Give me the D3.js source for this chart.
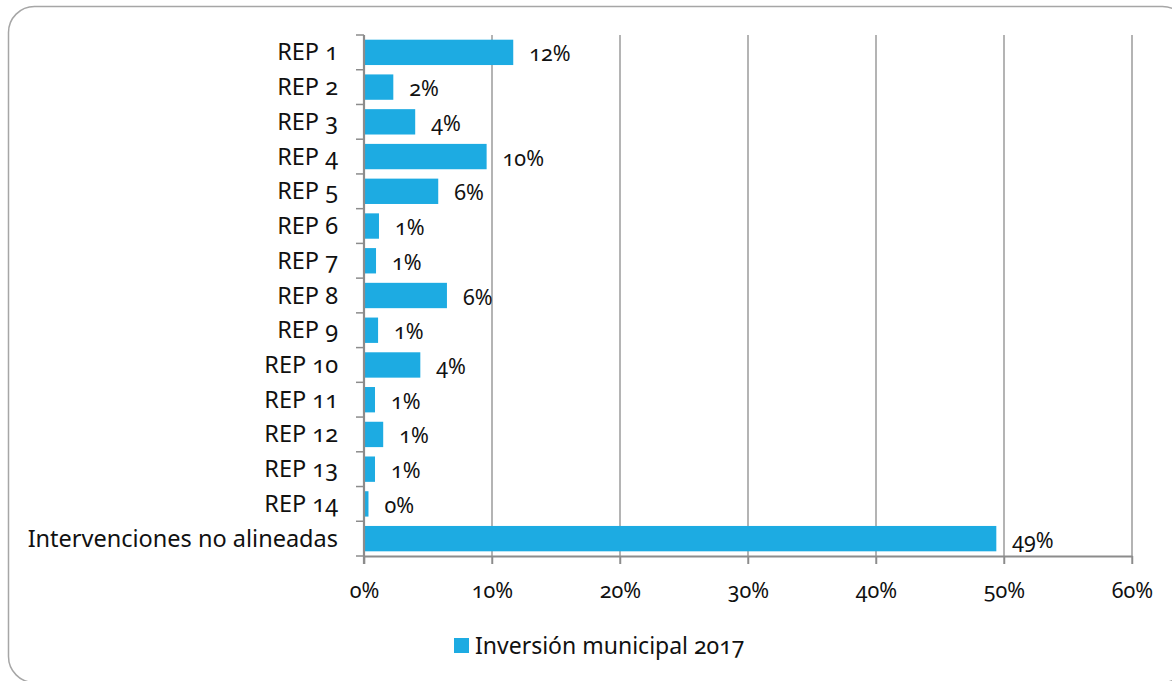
<!DOCTYPE html>
<html><head><meta charset="utf-8">
<script src="https://cdn.jsdelivr.net/npm/d3@7"></script>
<style>
html,body{margin:0;padding:0;background:#fff;}
svg text{font-family:"Noto Sans","Open Sans",sans-serif;font-variant-numeric:oldstyle-nums;font-feature-settings:"onum" 1;fill:#111;}
</style></head><body>
<svg id="c" width="1172" height="681"></svg>
<script>
const categories = ["REP 1","REP 2","REP 3","REP 4","REP 5","REP 6","REP 7","REP 8","REP 9","REP 10","REP 11","REP 12","REP 13","REP 14","Intervenciones no alineadas"];
const values = [0.1166,0.0229,0.040,0.0958,0.058,0.0117,0.0094,0.0648,0.011,0.044,0.0086,0.015,0.0086,0.0035,0.494];
const valueLabels = ["12%","2%","4%","10%","6%","1%","1%","6%","1%","4%","1%","1%","1%","0%","49%"];
const xTicks = [0,0.1,0.2,0.3,0.4,0.5,0.6];
const seriesName = "Inversión municipal 2017";

const svg = d3.select("#c");
svg.append("rect").attr("x",8.5).attr("y",6.5).attr("width",1180).attr("height",676)
  .attr("rx",26).attr("ry",26).attr("fill","none").attr("stroke","#a6a6a6").attr("stroke-width",1.5);

const pL=364, pR=1132, pT=35, pB=556;
const x = d3.scaleLinear().domain([0,0.6]).range([pL,pR]);
const y = d3.scaleBand().domain(categories).range([pT,pB]).paddingInner(0.27).paddingOuter(0.135);

const g = svg.append("g");
g.selectAll("line.grid").data(xTicks.slice(1)).join("line")
  .attr("x1",d=>x(d)).attr("x2",d=>x(d)).attr("y1",pT).attr("y2",pB+8)
  .attr("stroke","#8c8c8c").attr("stroke-width",1.3);

g.selectAll("rect.bar").data(values).join("rect")
  .attr("x",x(0)).attr("y",(d,i)=>y(categories[i]))
  .attr("width",d=>x(d)-x(0)).attr("height",y.bandwidth())
  .attr("fill","#1dabe2");

g.selectAll("text.val").data(values).join("text")
  .attr("x",d=>x(d)+16).attr("y",(d,i)=>y(categories[i])+y.bandwidth()/2+9)
  .attr("font-size",21.5).text((d,i)=>valueLabels[i]);

const xAxis = d3.axisBottom(x).tickValues(xTicks).tickFormat(d3.format(".0%")).tickSize(8).tickSizeOuter(0);
const ax = svg.append("g").attr("transform",`translate(0,${pB})`).call(xAxis);
ax.select(".domain").attr("stroke","#8c8c8c").attr("stroke-width",2.2);
ax.selectAll(".tick line").attr("stroke","#8c8c8c").attr("stroke-width",1.5);
ax.selectAll(".tick text").attr("font-size",21.5).attr("dy",0).attr("y",42).attr("font-family",null).attr("fill","#111");

const bounds = d3.range(categories.length+1).map(i=>pT+i*(pB-pT)/categories.length);
svg.append("line").attr("x1",pL).attr("x2",pL).attr("y1",pT).attr("y2",pB+8)
  .attr("stroke","#8c8c8c").attr("stroke-width",2.2);
svg.selectAll("line.ytick").data(bounds).join("line")
  .attr("x1",pL-8).attr("x2",pL).attr("y1",d=>d).attr("y2",d=>d)
  .attr("stroke","#8c8c8c").attr("stroke-width",1.5);
svg.selectAll("text.cat").data(categories).join("text")
  .attr("x",338).attr("y",d=>y(d)+y.bandwidth()/2+8)
  .attr("text-anchor","end").attr("font-size",23.5).text(d=>d);

svg.append("rect").attr("x",454).attr("y",638).attr("width",15).attr("height",15).attr("fill","#1dabe2");
svg.append("text").attr("x",475).attr("y",654).attr("font-size",23).text(seriesName);
</script></body></html>
